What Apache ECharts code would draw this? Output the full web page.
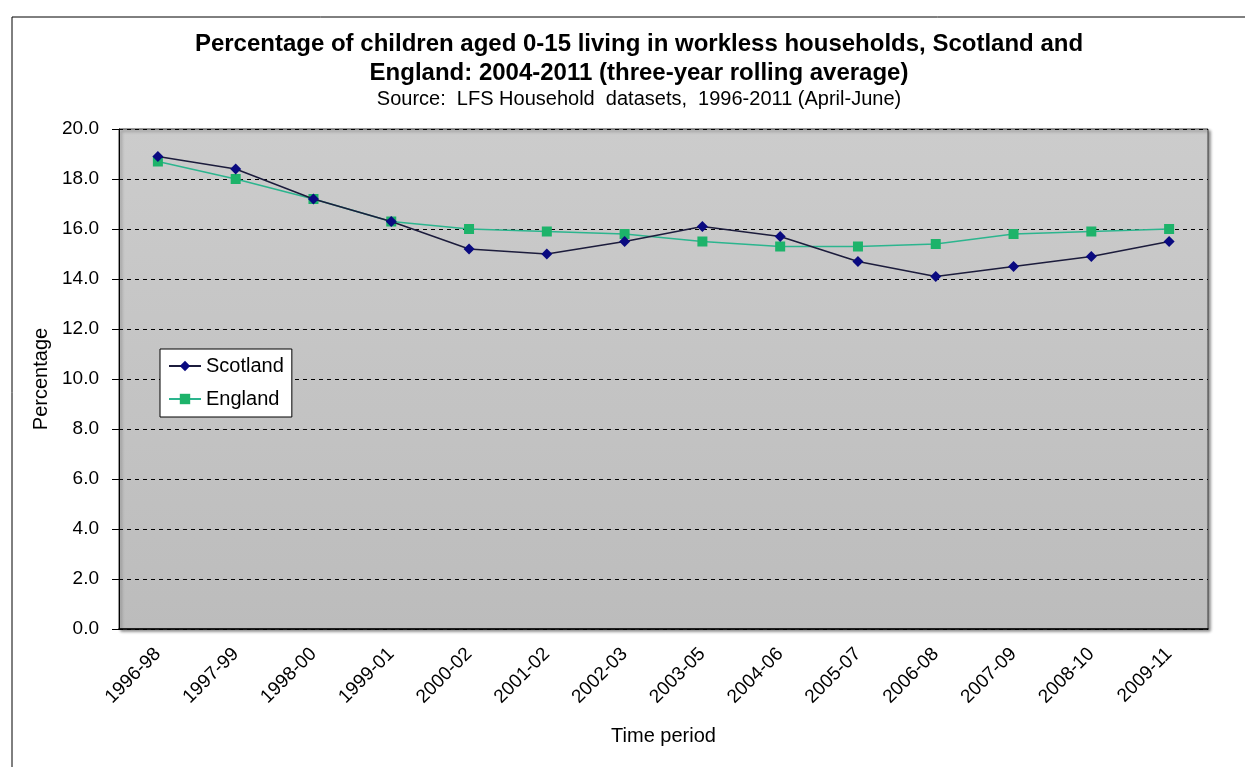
<!DOCTYPE html>
<html>
<head>
<meta charset="utf-8">
<script src="https://cdn.jsdelivr.net/npm/echarts@6/dist/echarts.min.js"></script>
<style>
  html, body { margin: 0; padding: 0; background: #ffffff; }
  #chart { width: 1245px; height: 767px; }
</style>
</head>
<body>
<div id="chart"></div>
<script>
// Three-year rolling periods
const periods = ['1996-98', '1997-99', '1998-00', '1999-01', '2000-02', '2001-02', '2002-03',
  '2003-05', '2004-06', '2005-07', '2006-08', '2007-09', '2008-10', '2009-11'];

// Percentage of children aged 0-15 in workless households
const scotland = [18.9, 18.4, 17.2, 16.3, 15.2, 15.0, 15.5, 16.1, 15.7, 14.7, 14.1, 14.5, 14.9, 15.5];
const england = [18.7, 18.0, 17.2, 16.3, 16.0, 15.9, 15.8, 15.5, 15.3, 15.3, 15.4, 15.8, 15.9, 16.0];

const yTicks = { min: 0, max: 20, interval: 2 };

const font = 'Arial, "Liberation Sans", sans-serif';

const chart = echarts.init(document.getElementById('chart'), null, { renderer: 'canvas' });

chart.setOption({
  backgroundColor: '#ffffff',
  animation: false,
  title: {
    text: 'Percentage of children aged 0-15 living in workless households, Scotland and\nEngland: 2004-2011 (three-year rolling average)',
    subtext: 'Source:  LFS Household  datasets,  1996-2011 (April-June)',
    left: 634,
    textAlign: 'center',
    top: 25,
    itemGap: 0,
    textStyle: { fontFamily: font, fontSize: 24, fontWeight: 'bold', color: '#000', lineHeight: 29 },
    subtextStyle: { fontFamily: font, fontSize: 20, color: '#000', lineHeight: 22 }
  },
  graphic: [
    {
      type: 'rect',
      silent: true,
      z: -10,
      shape: { x: 12, y: 17, width: 1240, height: 760 },
      style: { fill: 'none', stroke: '#000', lineWidth: 1 }
    }
  ],
  legend: {
    left: 160,
    top: 349,
    orient: 'vertical',
    backgroundColor: '#ffffff',
    borderColor: '#000',
    borderWidth: 1,
    borderRadius: 0,
    padding: [7, 8, 8, 8],
    itemGap: 13,
    itemWidth: 32,
    itemHeight: 13,
    textStyle: { fontFamily: font, fontSize: 20, color: '#000' },
    data: ['Scotland', 'England']
  },
  grid: {
    left: 119,
    right: 37,
    top: 129,
    bottom: 138,
    show: true,
    backgroundColor: {
      type: 'linear', x: 0, y: 0, x2: 0, y2: 1,
      colorStops: [
        { offset: 0, color: '#cccccc' },
        { offset: 1, color: '#bcbcbc' }
      ]
    },
    borderColor: '#404040',
    borderWidth: 1,
    shadowColor: 'rgba(0,0,0,0.45)',
    shadowBlur: 3,
    shadowOffsetX: 2,
    shadowOffsetY: 2
  },
  xAxis: {
    type: 'category',
    data: periods,
    boundaryGap: true,
    name: 'Time period',
    nameLocation: 'middle',
    nameGap: 97,
    nameTextStyle: { fontFamily: font, fontSize: 20, color: '#000' },
    axisLine: { show: true, lineStyle: { color: '#000', width: 1.5 } },
    axisTick: { show: false },
    axisLabel: {
      rotate: 45,
      interval: 0,
      margin: 22,
      fontFamily: font,
      fontSize: 19,
      color: '#000'
    },
    splitLine: { show: false }
  },
  yAxis: {
    type: 'value',
    min: yTicks.min,
    max: yTicks.max,
    interval: yTicks.interval,
    name: 'Percentage',
    nameLocation: 'middle',
    nameGap: 57,
    nameTextStyle: { fontFamily: font, fontSize: 20, color: '#000' },
    axisLine: { show: true, lineStyle: { color: '#000', width: 1 } },
    axisTick: { show: true, length: 7, lineStyle: { color: '#000' } },
    axisLabel: {
      margin: 20,
      fontFamily: font,
      fontSize: 19,
      color: '#000',
      formatter: v => v.toFixed(1)
    },
    splitLine: { show: true, lineStyle: { color: '#000', type: [4, 4], width: 1 } }
  },
  series: [
    {
      name: 'Scotland',
      type: 'line',
      data: scotland,
      symbol: 'diamond',
      symbolSize: 11,
      itemStyle: { color: '#0a0a80' },
      lineStyle: { color: '#1c1c3c', width: 1.5 },
      z: 3
    },
    {
      name: 'England',
      type: 'line',
      data: england,
      symbol: 'rect',
      symbolSize: 10,
      itemStyle: { color: '#1db36a' },
      lineStyle: { color: '#2cb58e', width: 1.5 },
      z: 2
    }
  ]
});
</script>
</body>
</html>
